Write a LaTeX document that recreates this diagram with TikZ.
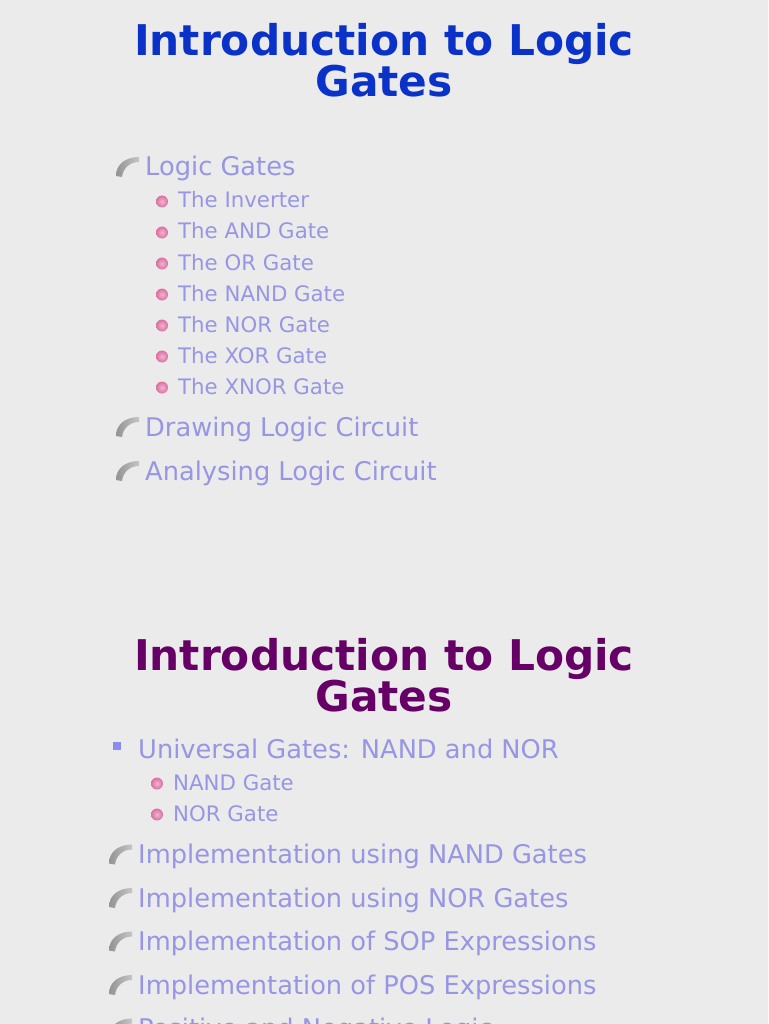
\documentclass[tikz,border=0pt]{standalone}
\usepackage{fontspec}
\setmainfont{DejaVu Sans}
\definecolor{bg}{RGB}{235,235,235}
\definecolor{item}{RGB}{150,150,228}
\definecolor{tblue}{RGB}{10,50,200}
\definecolor{tpurple}{RGB}{102,0,102}
\definecolor{pinkb}{RGB}{220,110,160}
\definecolor{sq}{RGB}{140,140,240}
\tikzset{
 x=1pt,y=-1pt,
 lvl1/.style={anchor=base west,inner sep=0pt,text=item,font=\fontsize{25.7}{25.7}\selectfont},
 lvl2/.style={anchor=base west,inner sep=0pt,text=item,font=\fontsize{21.3}{21.3}\selectfont},
 ttl/.style={align=center,text=#1,font=\fontsize{42.3}{41}\selectfont\bfseries,inner sep=0pt},
}
\newcommand{\swoosh}[2]{\shade[left color=gray!85,right color=gray!45] (#1-4,#2+4) .. controls (#1-4,#2-8) and (#1+6,#2-15) .. (#1+19,#2-15) -- (#1+19,#2-10) .. controls (#1+9,#2-10) and (#1+3,#2-3) .. (#1+2,#2+5) -- cycle;}
\newcommand{\pdot}[2]{\shade[inner color=pinkb!50,outer color=pinkb] (#1,#2-6.5) circle (6);}
\begin{document}
\begin{tikzpicture}
\clip (0,0) rectangle (768,1024);
\fill[bg] (0,0) rectangle (768,1024);
\node[ttl=tblue] (t1) at (384,60) {Introduction to Logic\\Gates};
\node[lvl1] (a1) at (145,176) {Logic Gates}; \swoosh{120}{172}
\foreach \t [count=\i] in {The Inverter,The AND Gate,The OR Gate,The NAND Gate,The NOR Gate,The XOR Gate,The XNOR Gate}{
 \node[lvl2] (s\i) at (178,177+31*\i) {\t}; \pdot{162}{177+31*\i}}
\node[lvl1] (a2) at (145,436) {Drawing Logic Circuit}; \swoosh{120}{432}
\node[lvl1] (a3) at (145,480) {Analysing Logic Circuit}; \swoosh{120}{476}
\node[ttl=tpurple] (t2) at (384,675) {Introduction to Logic\\Gates};
\fill[sq] (113,742) rectangle (121,750);
\node[lvl1] (u) at (138,758) {Universal Gates: NAND and NOR};
\node[lvl2] (n1) at (173,790) {NAND Gate}; \pdot{157}{790}
\node[lvl2] (n2) at (173,821) {NOR Gate}; \pdot{157}{821}
\foreach \t [count=\i] in {Implementation using NAND Gates,Implementation using NOR Gates,Implementation of SOP Expressions,Implementation of POS Expressions,Positive and Negative Logic}{
 \node[lvl1] (b\i) at (138,820+43.5*\i) {\t}; \swoosh{113}{816+43.5*\i}}
\end{tikzpicture}
\end{document}
